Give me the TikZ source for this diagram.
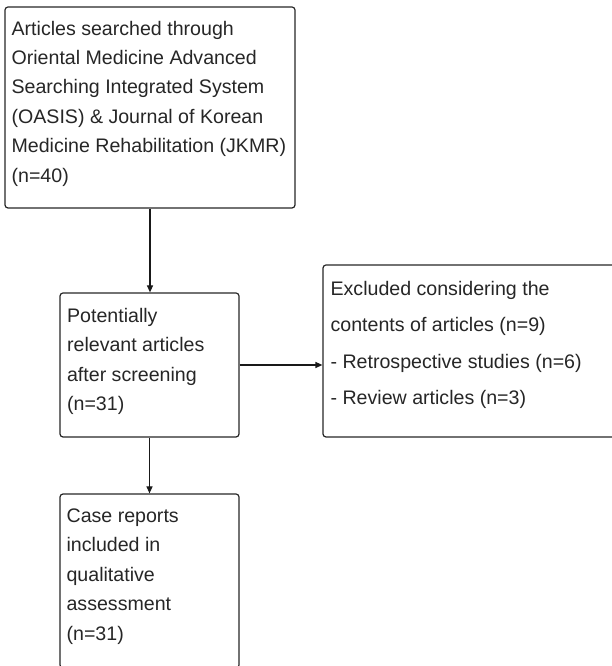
\documentclass[tikz,border=0pt]{standalone}
\usepackage{fontspec}
\setmainfont{Liberation Sans}
\usetikzlibrary{arrows.meta}
\newcommand{\myst}{\rule{0pt}{20pt}}
\begin{document}
\begin{tikzpicture}[x=1pt,y=1pt,
  box/.style={draw=black!85, line width=1.2pt, rounded corners=3pt, inner sep=0pt},
  txt/.style={anchor=north west, inner sep=0pt, align=left, text=black!85, font=\fontsize{19.6}{29.4}\selectfont},
  txtwide/.style={txt, font=\fontsize{19.6}{36.4}\selectfont},
  conn/.style={draw=black!90, line width=1.2pt, -{Triangle[length=7pt,width=6pt]}}]
\useasboundingbox (0,0) rectangle (611,666);
% boxes
\node[box, minimum width=290pt, minimum height=201pt] (b1) at (150,558.5) {};
\node[box, minimum width=179pt, minimum height=144pt] (b2) at (149.5,301) {};
\node[box, minimum width=292pt, minimum height=172pt] (b3) at (469,315) {};
\node[box, minimum width=179pt, minimum height=174pt] (b4) at (149.5,85) {};
% texts
\node[txt] (t1) at ([xshift=7pt,yshift=-8.5pt]b1.north west)
  {\myst Articles searched through\\Oriental Medicine Advanced\\Searching Integrated System\\(OASIS) \& Journal of Korean\\Medicine Rehabilitation (JKMR)\\(n=40)};
\node[txt] (t2) at ([xshift=7.5pt,yshift=-10pt]b2.north west)
  {\myst Potentially\\relevant articles\\after screening\\(n=31)};
\node[txtwide] (t3) at ([xshift=8pt,yshift=-11pt]b3.north west)
  {\myst Excluded considering the\\contents of articles (n=9)\\- Retrospective studies (n=6)\\- Review articles (n=3)};
\node[txt] (t4) at ([xshift=7pt,yshift=-9pt]b4.north west)
  {\myst Case reports\\included in\\qualitative\\assessment\\(n=31)};
% connectors
\draw[conn] (b1.south) -- (b1.south |- b2.north);
\draw[conn] (b2.east) -- (b2.east -| b3.west);
\draw[conn] (b2.south) -- (b4.north);
\end{tikzpicture}
\end{document}
